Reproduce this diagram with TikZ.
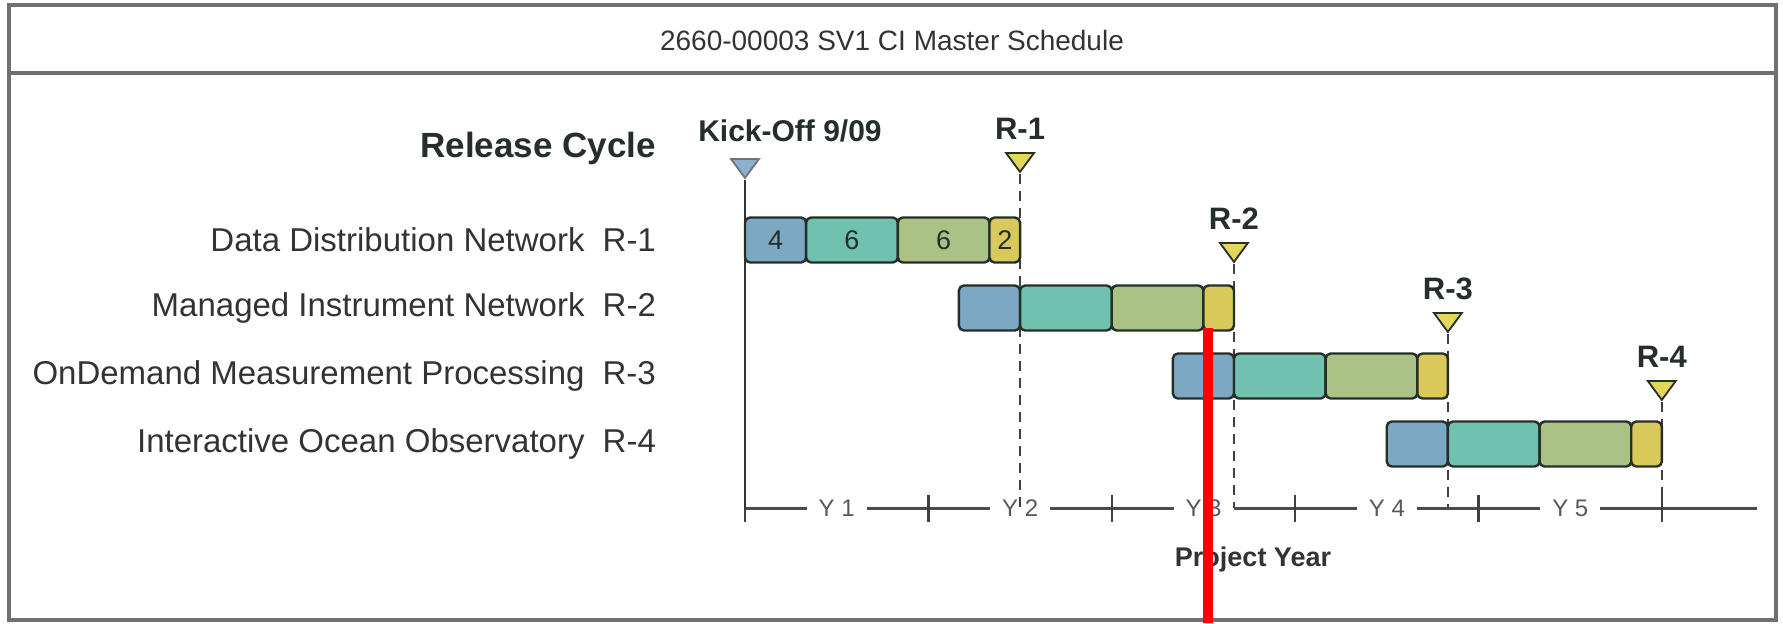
\documentclass[tikz,border=0pt]{standalone}
\usepackage{fontspec}
\setmainfont{Liberation Sans}
\usetikzlibrary{positioning,shapes.geometric}
\definecolor{segblue}{RGB}{125,168,196}
\definecolor{segteal}{RGB}{112,193,174}
\definecolor{seggreen}{RGB}{171,194,135}
\definecolor{segyellow}{RGB}{216,201,90}
\definecolor{trigold}{RGB}{226,214,92}
\definecolor{triblue}{RGB}{140,177,207}
\definecolor{framegray}{RGB}{112,112,112}
\definecolor{inkdark}{RGB}{38,46,42}
\newcommand{\monthw}{7.64pt}
\tikzset{
	seg/.style={draw=inkdark, line width=1.2pt, rounded corners=2.5pt, inner sep=0pt, outer sep=0pt, minimum height=22.5pt, anchor=west, font=\fontsize{13.5}{13.5}\selectfont, text=inkdark},
	reltri/.style={isosceles triangle, isosceles triangle stretches, shape border rotate=270, draw=inkdark, line width=0.9pt, fill=trigold, inner sep=0pt, minimum width=14pt, minimum height=9.5pt},
	rellab/.style={font=\fontsize{15.5}{16}\selectfont\bfseries, text=inkdark, inner sep=1pt},
	rowlab/.style={anchor=east, font=\fontsize{16.5}{17}\selectfont, text=black!80},
	yearlab/.style={fill=white, inner xsep=6pt, font=\fontsize{12}{12}\selectfont, text=black!65},
	relline/.style={dashed, dash pattern=on 5pt off 3.5pt, line width=1.1pt, draw=black!75}
}
\begin{document}
\begin{tikzpicture}[x=0.5pt, y=-0.5pt]
	\useasboundingbox (0,0) rectangle (1783,623);
	\draw[framegray, line width=1.6pt] (9,5) rectangle (1776,620);
	\draw[framegray, line width=1.6pt] (9,73) -- (1776,73);
	\node[text=black!80] (title) at (892,40) {\fontsize{14}{14}\selectfont 2660-00003 SV1 CI Master Schedule};

	\coordinate (a0) at (745,508);
	\coordinate (aend) at (1757,508);
	\draw[line width=1.5pt, black!70] (a0) -- (aend);
	\foreach \k in {0,...,5}
		\draw[line width=1.2pt, black!75] ({745+\k*183.4},495) -- ({745+\k*183.4},522);
	\foreach \k in {1,...,5}
		\node[yearlab] (y\k) at ({745+(\k-0.5)*183.4},508) {Y \k};
	\node[font=\fontsize{13.5}{14}\selectfont\bfseries, text=black!80] (py) at (1253,560) {Project Year};

	\node[reltri, fill=triblue, draw=black!55] (ko) at (745,166) {};
	\node[font=\fontsize{15}{15}\selectfont\bfseries, text=inkdark] (kolab) at (790,131) {Kick-Off 9/09};
	\draw[line width=1pt, black!80] (ko.apex) -- (a0);

	\foreach \r/\m/\ty in {1/18/160, 2/32/250, 3/46/320, 4/60/388}{
		\node[reltri] (r\r) at ({745+\m*15.28},\ty) {};
		\node[rellab, above=5pt of r\r] (rl\r) {R-\r};
		\coordinate (e\r) at ({745+\m*15.28},508);
		\draw[relline] (r\r.apex) -- (e\r);
	}

	\node[seg, fill=segblue, minimum width=4*\monthw] (b1a) at (745,240) {4};
	\node[seg, fill=segteal, minimum width=6*\monthw, right=0pt of b1a] (b1b) {6};
	\node[seg, fill=seggreen, minimum width=6*\monthw, right=0pt of b1b] (b1c) {6};
	\node[seg, fill=segyellow, minimum width=2*\monthw, right=0pt of b1c] (b1d) {2};
	\foreach \r/\s in {2/14, 3/28, 4/42}{
		\node[seg, fill=segblue, minimum width=4*\monthw] (b\r a) at ({745+\s*15.28},{240+(\r-1)*68}) {};
		\node[seg, fill=segteal, minimum width=6*\monthw, right=0pt of b\r a] (b\r b) {};
		\node[seg, fill=seggreen, minimum width=6*\monthw, right=0pt of b\r b] (b\r c) {};
		\node[seg, fill=segyellow, minimum width=2*\monthw, right=0pt of b\r c] (b\r d) {};
	}

	\node[font=\fontsize{17.5}{18}\selectfont\bfseries, text=inkdark, anchor=east] (cyc) at (663,148) {Release Cycle};
	\node[rowlab] (n1) at (663,240) {Data Distribution Network\hspace{0.55em}R-1};
	\node[rowlab] (n2) at (663,308) {Managed Instrument Network\hspace{0.55em}R-2};
	\node[rowlab] (n3) at (663,376) {OnDemand Measurement Processing\hspace{0.55em}R-3};
	\node[rowlab] (n4) at (663,444) {Interactive Ocean Observatory\hspace{0.55em}R-4};

	\draw[red, line width=5pt] (1208,328) -- (1208,623);
\end{tikzpicture}
\end{document}
